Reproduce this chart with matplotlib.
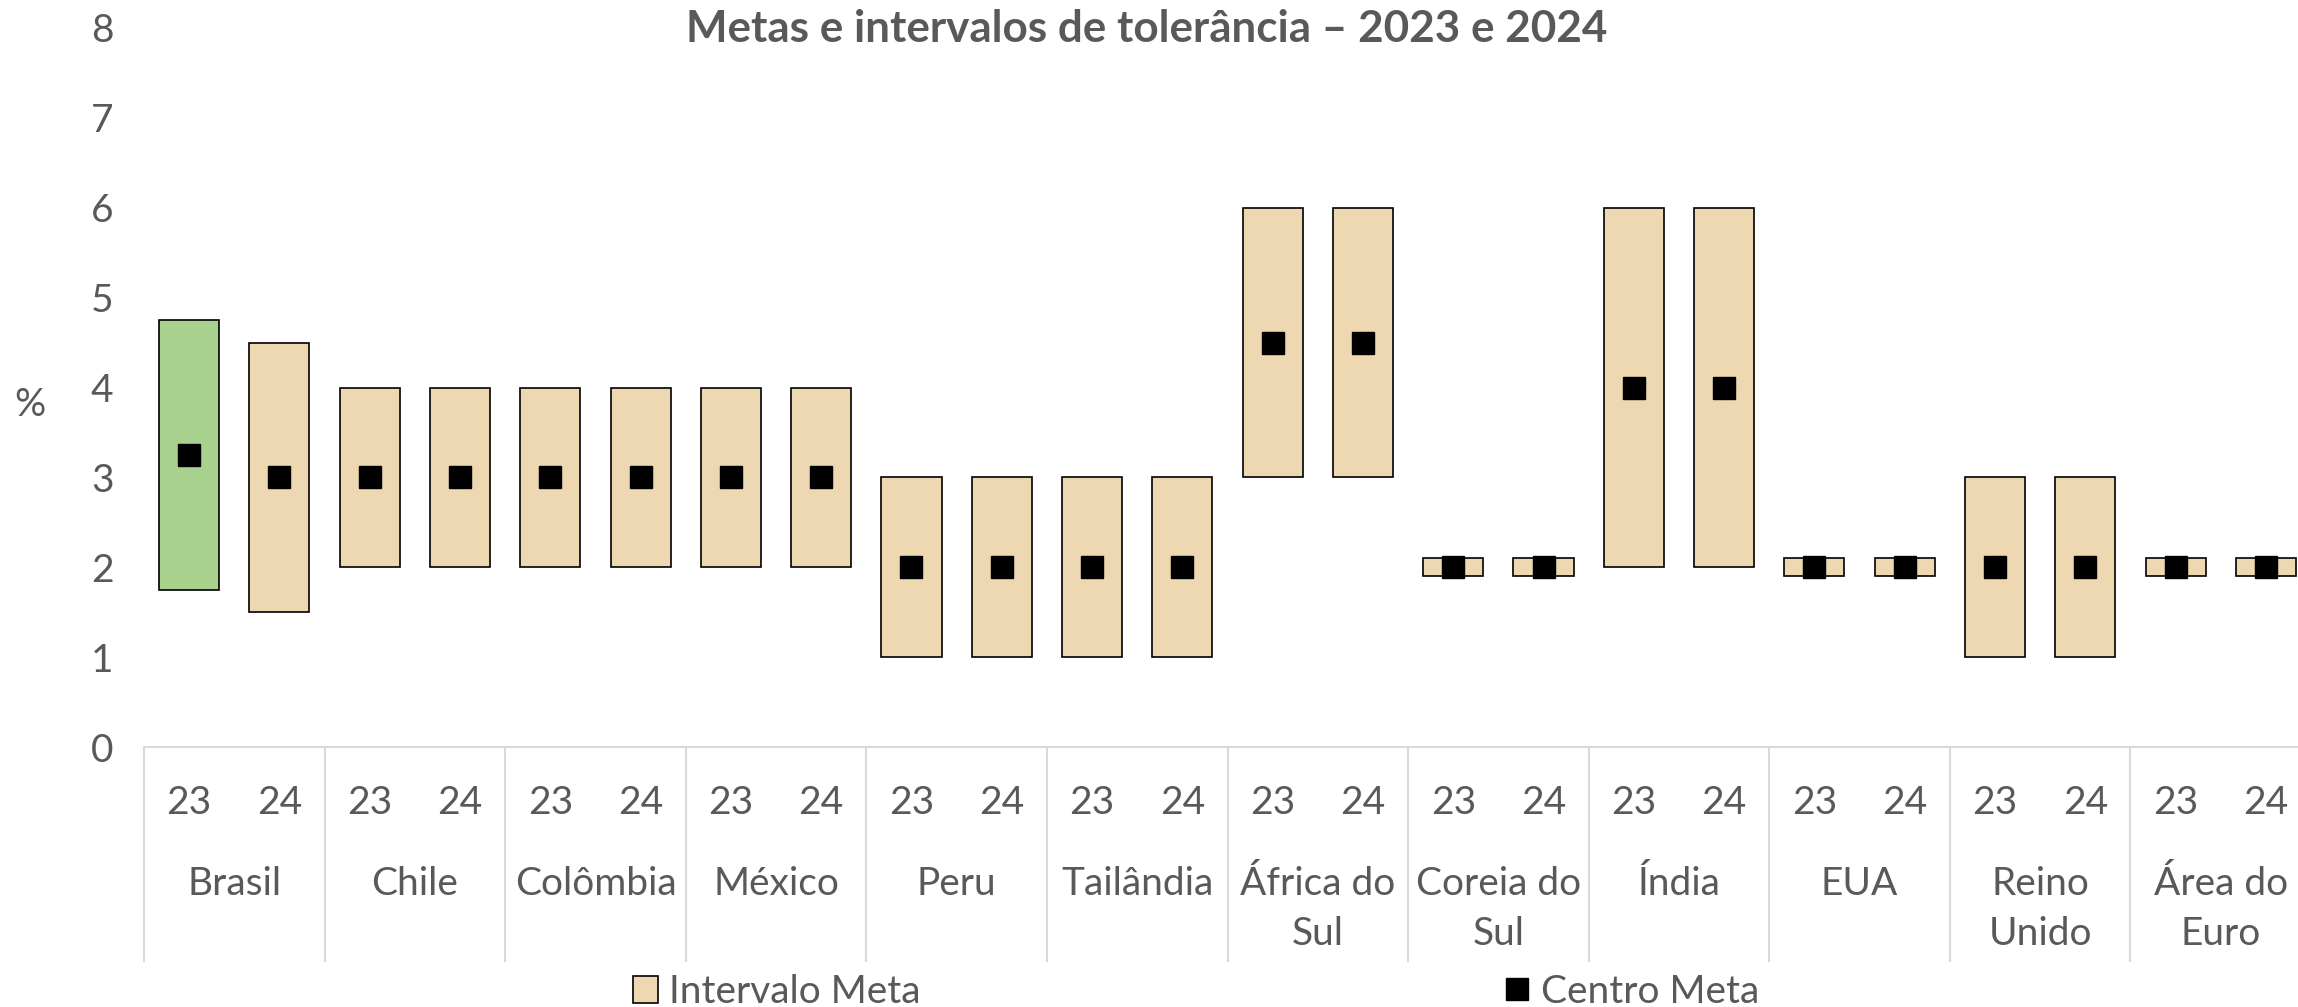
import matplotlib
matplotlib.use("Agg")
import matplotlib.pyplot as plt
import matplotlib.transforms as mtransforms
from matplotlib.patches import Patch
import numpy as np

plt.rcParams['font.family'] = ['Lato', 'DejaVu Sans']

# dados: metas e intervalos de tolerancia
paises = ["Brasil", "Chile", "Colômbia", "México", "Peru", "Tailândia",
          "África do\nSul", "Coreia do\nSul", "Índia", "EUA", "Reino\nUnido",
          "Área do\nEuro"]
anos = ["23", "24"]
# limites inferior / superior e centro, na ordem 23, 24 de cada pais
lim_inf = [1.75, 1.5, 2, 2, 2, 2, 2, 2, 1, 1, 1, 1,
           3, 3, 1.9, 1.9, 2, 2, 1.9, 1.9, 1, 1, 1.9, 1.9]
lim_sup = [4.75, 4.5, 4, 4, 4, 4, 4, 4, 3, 3, 3, 3,
           6, 6, 2.1, 2.1, 6, 6, 2.1, 2.1, 3, 3, 2.1, 2.1]
centro = [3.25, 3, 3, 3, 3, 3, 3, 3, 2, 2, 2, 2,
          4.5, 4.5, 2, 2, 4, 4, 2, 2, 2, 2, 2, 2]

cinza = "#595959"
bege = "#EDD8B2"
verde = "#A9D18E"
fs = 28

fig = plt.figure(figsize=(22.98, 10.07), dpi=100)
ax = fig.add_axes([144/2298, 260/1007, 2167/2298, 719/1007])

x = np.arange(len(centro)) + 0.5
cores = [bege]*len(centro)
cores[0] = verde
alturas = np.array(lim_sup) - np.array(lim_inf)

ax.bar(x, alturas, bottom=lim_inf, width=0.665, color=cores,
       edgecolor="black", linewidth=1.2, zorder=2)
pontos, = ax.plot(x, centro, "s", color="black", markersize=16,
                  linestyle="none", label="Centro Meta", zorder=3)

ax.set_xlim(0, len(centro))
ax.set_ylim(0, 8)
ax.set_yticks(range(0, 9))
ax.tick_params(axis="y", length=0, labelsize=fs, labelcolor=cinza, pad=22)
ax.set_xticks([])
for s in ["top", "right", "left"]:
    ax.spines[s].set_visible(False)
ax.spines["bottom"].set_color("#D9D9D9")
ax.spines["bottom"].set_linewidth(1.5)

# rotulos em dois niveis
trans = mtransforms.blended_transform_factory(ax.transData, ax.transAxes)
for i, xi in enumerate(x):
    ax.text(xi, -0.078, anos[i % 2], transform=trans, ha="center", va="center",
            fontsize=fs, color=cinza)
for j, p in enumerate(paises):
    for k, linha in enumerate(p.split("\n")):
        ax.text(2*j + 1, -0.19 - 0.0705*k, linha, transform=trans, ha="center",
                va="center", fontsize=fs, color=cinza)
ax.vlines(np.arange(0, len(centro), 2), -0.299, 0, transform=trans,
          colors="#D9D9D9", linewidth=1.5, clip_on=False)

fig.text(30/2298, 1 - 405/1007, "%", ha="center", va="center", fontsize=fs, color=cinza)
fig.text(1147/2298, 1 - 29/1007, "Metas e intervalos de tolerância – 2023 e 2024",
         ha="center", va="center", fontsize=31.7, fontweight="bold", color=cinza)

intervalo = Patch(facecolor=bege, edgecolor="black", linewidth=1.2, label="Intervalo Meta")
fig.legend(handles=[intervalo, pontos], loc="center", bbox_to_anchor=(1196/2298, 15/1007),
           ncol=2, frameon=False, fontsize=fs, labelcolor=cinza,
           handlelength=0.65, handletextpad=0.3, columnspacing=15.0,
           borderpad=0, borderaxespad=0)

fig.savefig("out.png", dpi=100)
